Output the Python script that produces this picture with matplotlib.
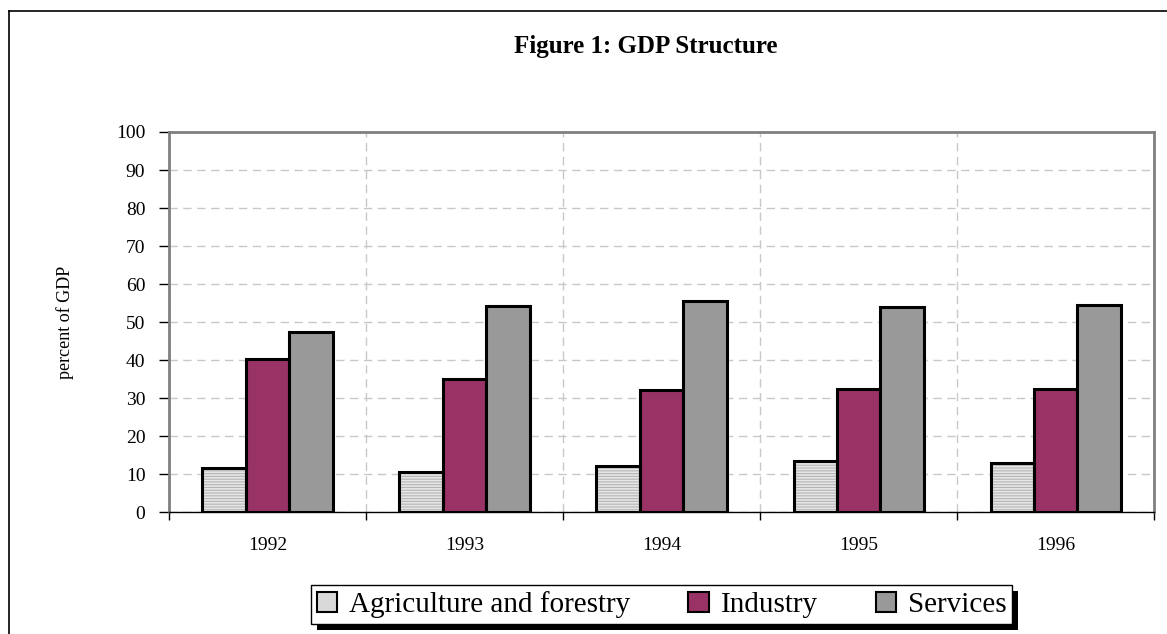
import numpy as np
import matplotlib.pyplot as plt
from matplotlib.lines import Line2D
from matplotlib.patches import Patch, Rectangle

plt.rcParams['font.family'] = ['Liberation Serif', 'DejaVu Serif']
plt.rcParams['hatch.linewidth'] = 0.8

# Data
years = ['1992', '1993', '1994', '1995', '1996']
agriculture = [11.7, 10.5, 12.0, 13.3, 13.0]
industry = [40.3, 35.0, 32.0, 32.5, 32.3]
services = [47.3, 54.3, 55.5, 54.0, 54.5]
series_names = ['Agriculture and forestry', 'Industry', 'Services']
colors = ['#e6e6e6', '#993366', '#999999']

fig = plt.figure(figsize=(11.67, 6.34), dpi=100)
ax = fig.add_axes([0.1448, 0.1924, 0.8441, 0.5994])

x = np.arange(len(years))
w = 0.22

# agriculture: light horizontal stripes, then a black outline on top
ax.bar(x - w, agriculture, w, facecolor=colors[0], edgecolor='#b4b4b4', linewidth=0,
       hatch='------', zorder=3)
ax.bar(x - w, agriculture, w, fill=False, edgecolor='black', linewidth=2.2, zorder=4)
ax.bar(x, industry, w, facecolor=colors[1], edgecolor='black', linewidth=2.2, zorder=3)
ax.bar(x + w, services, w, facecolor=colors[2], edgecolor='black', linewidth=2.2, zorder=3)

ax.set_xlim(-0.5, len(years) - 0.5)
ax.set_ylim(0, 100)
ax.set_yticks(np.arange(0, 101, 10))
ax.set_xticks(x)
ax.set_xticklabels(years)
ax.set_xticks(np.arange(-0.5, len(years), 1), minor=True)
ax.tick_params(axis='x', which='major', length=0, pad=18, labelsize=14)
ax.tick_params(axis='x', which='minor', length=6, width=1, color='black', direction='out')
ax.tick_params(axis='y', length=7, width=1, color='black', direction='out', pad=10, labelsize=14)
ax.set_ylabel('percent of GDP', fontsize=13, labelpad=30)

ax.grid(True, axis='y', color='#c8c8c8', linestyle=(0, (6, 4)), linewidth=1, zorder=0)
ax.grid(True, axis='x', which='minor', color='#c8c8c8', linestyle=(0, (6, 4)), linewidth=1, zorder=0)

for s in ['left', 'top', 'right']:
    ax.spines[s].set_color('#808080')
    ax.spines[s].set_linewidth(2)
ax.spines['bottom'].set_color('black')
ax.spines['bottom'].set_linewidth(1)

fig.text(0.553, 0.926, 'Figure 1: GDP Structure', ha='center', va='center',
         fontsize=18, fontweight='bold')

handles = [Patch(facecolor='#d9d9d9', edgecolor='black', linewidth=1.5),
           Patch(facecolor=colors[1], edgecolor='black', linewidth=1.5),
           Patch(facecolor=colors[2], edgecolor='black', linewidth=1.5)]
leg = fig.legend(handles, series_names, loc='center', bbox_to_anchor=(0.567, 0.0465),
                 ncol=3, frameon=True, fancybox=False, edgecolor='black',
                 facecolor='white', framealpha=1, fontsize=21,
                 handlelength=0.7, handleheight=0.7, handletextpad=0.4,
                 columnspacing=2.0, borderpad=0.2, borderaxespad=0)
leg.get_frame().set_linewidth(1)
leg.set_zorder(6)

# black drop shadow behind the legend
fig.canvas.draw()
bb = leg.get_window_extent()
W, H = fig.bbox.width, fig.bbox.height
shadow = Rectangle(((bb.x0 + 6) / W, (bb.y0 - 6) / H), bb.width / W, bb.height / H,
                   transform=fig.transFigure, facecolor='black', edgecolor='none', zorder=5)
fig.add_artist(shadow)

# outer chart border (left and top visible)
fig.add_artist(Line2D([0.0077, 0.0077], [0.0, 0.983], color='black', linewidth=1.2))
fig.add_artist(Line2D([0.0077, 1.0], [0.983, 0.983], color='black', linewidth=1.2))

plt.savefig('out.png', dpi=100)
